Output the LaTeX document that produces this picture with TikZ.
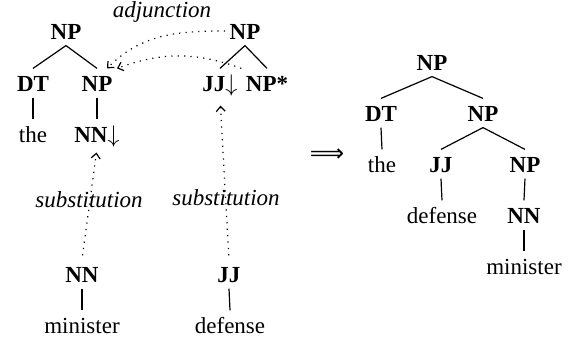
\documentclass[tikz,border=0pt]{standalone}
\usepackage{fontspec}
\setmainfont{Liberation Serif}
\newfontfamily\symfont{DejaVu Sans}
\usetikzlibrary{arrows.meta}
\tikzset{
  lbl/.style={anchor=base, inner xsep=2pt, inner ysep=2.5pt, text height=9pt, text depth=0pt,
    font=\fontsize{11.5}{14}\selectfont},
  cat/.style={lbl, font=\fontsize{11.5}{14}\selectfont\bfseries},
  op/.style={lbl, font=\fontsize{11.5}{14}\selectfont\itshape},
  move/.style={-{Straight Barb[length=2.5pt,width=4.5pt]}, dash pattern=on 0.6pt off 2.6pt, line width=0.6pt},
}
\begin{document}
\begin{tikzpicture}[x=0.5pt, y=-0.5pt, line width=0.6pt]
      \useasboundingbox (0,0) rectangle (570,341);
      % initial tree
      \draw
        (66,40) node[cat] (np1){NP}
        (33,92) node[cat] (dt1){DT}
        (97,92) node[cat] (np2){NP}
        (33,143) node[lbl] (the1){the}
        (97,143) node[cat] (nnd){NN$\downarrow$};
      % auxiliary tree
      \draw
        (245,40) node[cat] (np3){NP}
        (220,92) node[cat] (jjd){JJ$\downarrow$}
        (267,92) node[cat] (nps){NP*};
      % substituted trees
      \draw
        (82,283) node[cat] (nn1){NN}
        (82,334) node[lbl] (minister1){minister}
        (229,283) node[cat] (jj1){JJ}
        (230,334) node[lbl] (defense1){defense};
      % derived tree
      \draw
        (327,162) node[lbl, text height=6pt, font=\fontsize{12}{14}\symfont] (yields){⟹}
        (432,71) node[cat] (r1){NP}
        (381,122) node[cat] (r2){DT}
        (483,122) node[cat] (r3){NP}
        (382,173) node[lbl] (r4){the}
        (441,173) node[cat] (r5){JJ}
        (525,173) node[cat] (r6){NP}
        (442,224) node[lbl] (r7){defense}
        (524,224) node[cat] (r8){NN}
        (524,275) node[lbl] (r9){minister};
      \begin{scope}[-]
        \draw (np1.south) to (dt1.north);
        \draw (np1.south) to (np2.north);
        \draw (dt1.south) to (the1.north);
        \draw (np2.south) to (nnd.north);
        \draw (np3.south) to (jjd.north);
        \draw (np3.south) to (nps.north);
        \draw (nn1.south) to (minister1.north);
        \draw (jj1.south) to (defense1.north);
        \draw (r1.south) to (r2.north);
        \draw (r1.south) to (r3.north);
        \draw (r2.south) to (r4.north);
        \draw (r3.south) to (r5.north);
        \draw (r3.south) to (r6.north);
        \draw (r5.south) to (r7.north);
        \draw (r6.south) to (r8.north);
        \draw (r8.south) to (r9.north);
      \end{scope}
      % operations
      \node[op] (adj) at (162,18) {adjunction};
      \draw[move] (np3.west) to[out=180,in=45] ([xshift=5pt]np2.north);
      \draw[move] (nps.north west) to[out=160,in=20] ([xshift=10pt]np2.north);
      \draw[move, shorten <=2pt, shorten >=2pt] (nn1.north) -- node[op, pos=0.47]{substitution} (nnd.south);
      \draw[move, shorten <=2pt, shorten >=4pt] (jj1.north) -- node[op, pos=0.33]{substitution} (jjd.south);
    \end{tikzpicture}
\end{document}
